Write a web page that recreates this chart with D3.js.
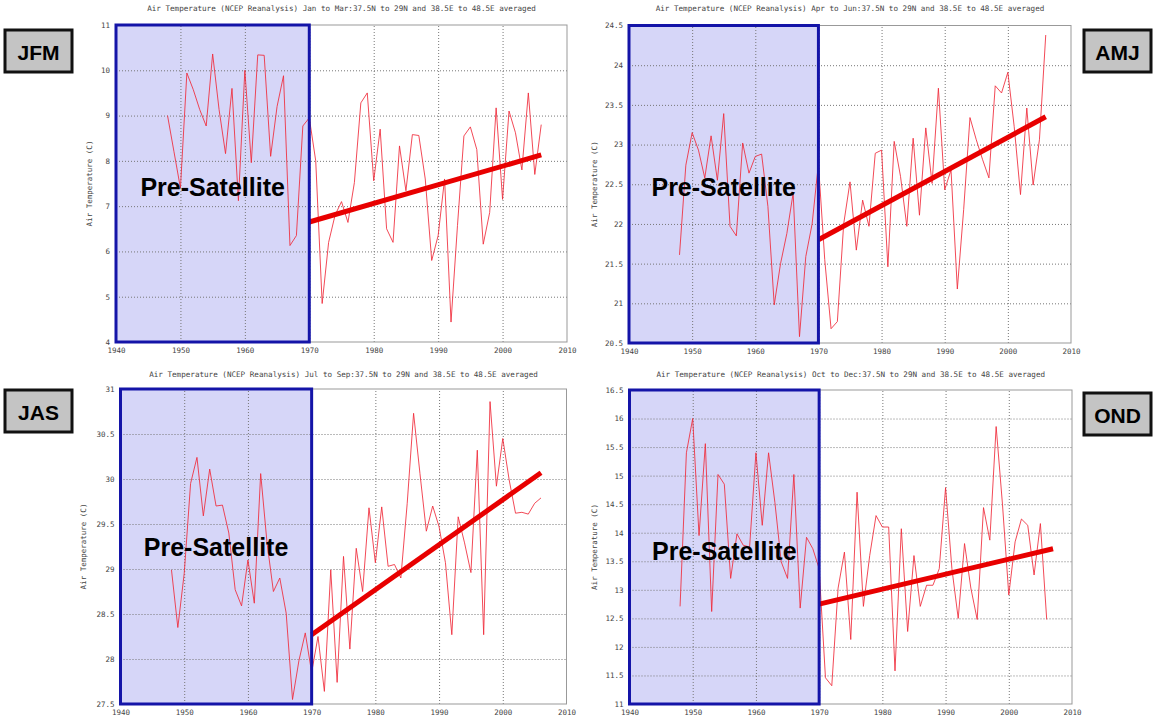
<!DOCTYPE html>
<html>
<head>
<meta charset="utf-8">
<script src="https://cdn.jsdelivr.net/npm/d3@7"></script>
<style>
  body { margin: 0; background: #fff; }
  .tick text { font-family: "DejaVu Sans Mono", monospace; font-size: 7.5px; fill: #444; }
</style>
</head>
<body>
<div id="chart"></div>
<script>
// ---- data ----
var years = [1948, 1949, 1950, 1951, 1952, 1953, 1954, 1955, 1956, 1957,
             1958, 1959, 1960, 1961, 1962, 1963, 1964, 1965, 1966, 1967,
             1968, 1969, 1970, 1971, 1972, 1973, 1974, 1975, 1976, 1977,
             1978, 1979, 1980, 1981, 1982, 1983, 1984, 1985, 1986, 1987,
             1988, 1989, 1990, 1991, 1992, 1993, 1994, 1995, 1996, 1997,
             1998, 1999, 2000, 2001, 2002, 2003, 2004, 2005, 2006];

var jfmTemp = [9.0, 8.2, 7.4, 9.94, 9.57, 9.13, 8.77, 10.36, 9.13, 8.16,
               9.6, 7.12, 10.0, 7.96, 10.34, 10.33, 8.1, 9.2, 9.88, 6.13,
               6.35, 8.77, 8.95, 8.0, 4.85, 6.2, 6.8, 7.1, 6.64, 7.52,
               9.28, 9.5, 7.56, 8.7, 6.5, 6.2, 8.33, 7.34, 8.58, 8.56,
               7.6, 5.8, 6.35, 7.6, 4.44, 6.57, 8.55, 8.75, 8.25, 6.16,
               6.86, 9.17, 7.15, 9.1, 8.62, 7.8, 9.5, 7.7, 8.8];

var amjTemp = [21.61, 22.74, 23.15, 22.93, 22.58, 23.11, 22.55, 23.39, 21.97, 21.85,
               23.02, 22.64, 22.85, 22.88, 22.22, 20.98, 21.5, 21.88, 22.39, 20.58,
               21.59, 22.0, 22.76, 21.55, 20.68, 20.77, 22.0, 22.53, 21.67, 22.3,
               21.97, 22.89, 22.93, 21.46, 23.04, 22.6, 21.97, 23.08, 22.11, 23.21,
               22.51, 23.71, 22.43, 22.68, 21.18, 22.18, 23.34, 23.06, 22.81, 22.58,
               23.74, 23.65, 23.91, 23.23, 22.37, 23.46, 22.49, 23.06, 24.38];

var jasTemp = [28.99, 28.35, 28.95, 29.95, 30.24, 29.59, 30.11, 29.7, 29.71, 29.4,
               28.77, 28.59, 29.1, 28.62, 30.06, 29.29, 28.75, 28.9, 28.51, 27.55,
               27.98, 28.29, 27.85, 28.25, 27.64, 28.99, 27.74, 29.14, 28.11, 29.23,
               28.75, 29.68, 29.07, 29.69, 29.03, 29.05, 28.9, 29.73, 30.73, 30.06,
               29.42, 29.7, 29.47, 29.07, 28.27, 29.58, 29.29, 28.96, 30.32, 28.27,
               30.86, 29.92, 30.45, 29.99, 29.62, 29.63, 29.61, 29.73, 29.79];

var ondTemp = [12.71, 15.4, 16.0, 13.95, 15.56, 12.62, 15.02, 14.85, 13.2, 13.98,
               13.78, 13.75, 15.4, 14.13, 15.4, 14.53, 13.49, 13.2, 15.02, 12.68,
               13.92, 13.72, 13.37, 11.46, 11.32, 13.03, 13.66, 12.13, 14.71, 12.71,
               13.6, 14.3, 14.1, 14.1, 11.58, 14.07, 12.27, 13.6, 12.71, 13.08,
               13.08, 13.37, 14.79, 13.37, 12.5, 13.81, 13.03, 12.48, 14.44, 13.87,
               15.86, 14.5, 12.91, 13.84, 14.24, 14.13, 13.26, 14.16, 12.48];

// linear trend, satellite era
var trendYears = [1970, 2006];
var ondTrendYears = [1970, 2007];
var jfmTrend = [6.65, 8.13];
var amjTrend = [21.8, 23.35];
var jasTrend = [28.27, 30.07];
var ondTrend = [12.75, 13.72];

var xTicks = [1940, 1950, 1960, 1970, 1980, 1990, 2000, 2010];
var jfmTicks = [4, 5, 6, 7, 8, 9, 10, 11];
var amjTicks = [20.5, 21, 21.5, 22, 22.5, 23, 23.5, 24, 24.5];
var jasTicks = [27.5, 28, 28.5, 29, 29.5, 30, 30.5, 31];
var ondTicks = [11, 11.5, 12, 12.5, 13, 13.5, 14, 14.5, 15, 15.5, 16, 16.5];

var preSatellite = [1940, 1970];
var seasonLabels = ["JFM", "AMJ", "JAS", "OND"];
var seasonMonths = ["Jan to Mar", "Apr to Jun", "Jul to Sep", "Oct to Dec"];

// ---- layout ----
var W = 1153, H = 723;
var svg = d3.select("#chart").append("svg").attr("width", W).attr("height", H);

var panels = [
  { temp: jfmTemp, ticks: jfmTicks, trend: jfmTrend, tYears: trendYears,
    frame: [116, 567, 25, 342], box: [5, 30, 67, 42], preY: 187, yLabX: 92, titleY: 11 },
  { temp: amjTemp, ticks: amjTicks, trend: amjTrend, tYears: trendYears,
    frame: [629, 1071, 25.5, 343], box: [1084, 30, 67, 42], preY: 187, yLabX: 597, titleY: 11 },
  { temp: jasTemp, ticks: jasTicks, trend: jasTrend, tYears: trendYears,
    frame: [120.5, 566.5, 389, 704], box: [5, 390, 67, 42], preY: 547, yLabX: 86, titleY: 377 },
  { temp: ondTemp, ticks: ondTicks, trend: ondTrend, tYears: ondTrendYears,
    frame: [629.5, 1072, 390, 704], box: [1084, 393, 67, 42], preY: 551, yLabX: 597, titleY: 377 }
];

panels.forEach(function(p, k) {
  var f = p.frame;
  var x = d3.scaleLinear().domain([1940, 2010]).range([f[0], f[1]]);
  var y = d3.scaleLinear().domain(d3.extent(p.ticks)).range([f[3], f[2]]);
  var g = svg.append("g");

  // pre-satellite shading
  g.append("rect")
    .attr("x", x(preSatellite[0])).attr("y", f[2])
    .attr("width", x(preSatellite[1]) - x(preSatellite[0]))
    .attr("height", f[3] - f[2])
    .attr("fill", "#d6d6f8");

  // grid
  g.append("g")
    .attr("transform", "translate(0," + f[3] + ")")
    .call(d3.axisBottom(x).tickValues(xTicks.slice(1, -1)).tickSize(-(f[3] - f[2])).tickFormat(""))
    .call(function(a) { a.select(".domain").remove(); })
    .selectAll("line").attr("stroke", "#777").attr("stroke-dasharray", "1,2");
  g.append("g")
    .attr("transform", "translate(" + f[0] + ",0)")
    .call(d3.axisLeft(y).tickValues(p.ticks.slice(1, -1)).tickSize(-(f[1] - f[0])).tickFormat(""))
    .call(function(a) { a.select(".domain").remove(); })
    .selectAll("line").attr("stroke", "#777").attr("stroke-dasharray", "1,2");

  // frame
  g.append("rect")
    .attr("x", f[0]).attr("y", f[2])
    .attr("width", f[1] - f[0]).attr("height", f[3] - f[2])
    .attr("fill", "none").attr("stroke", "#999").attr("stroke-width", 1);

  // tick labels
  g.append("g")
    .attr("transform", "translate(0," + (f[3] + 3) + ")")
    .call(d3.axisBottom(x).tickValues(xTicks).tickSize(0).tickFormat(d3.format("d")))
    .call(function(a) { a.select(".domain").remove(); });
  g.append("g")
    .attr("transform", "translate(" + (f[0] - 3) + ",0)")
    .call(d3.axisLeft(y).tickValues(p.ticks).tickSize(0).tickFormat(function(d) { return String(d); }))
    .call(function(a) { a.select(".domain").remove(); });

  // data
  var line = d3.line().x(function(d, i) { return x(years[i]); }).y(function(d) { return y(d); });
  g.append("path").datum(p.temp)
    .attr("d", line)
    .attr("fill", "none").attr("stroke", "#f02a3a").attr("stroke-opacity", 0.85)
    .attr("stroke-width", 1);

  // trend
  g.append("line")
    .attr("x1", x(p.tYears[0])).attr("y1", y(p.trend[0]))
    .attr("x2", x(p.tYears[1])).attr("y2", y(p.trend[1]))
    .attr("stroke", "#e80000").attr("stroke-width", 5);

  // pre-satellite border
  g.append("rect")
    .attr("x", x(preSatellite[0])).attr("y", f[2])
    .attr("width", x(preSatellite[1]) - x(preSatellite[0]))
    .attr("height", f[3] - f[2])
    .attr("fill", "none").attr("stroke", "#1414a8").attr("stroke-width", 3);

  g.append("text")
    .attr("x", (x(preSatellite[0]) + x(preSatellite[1])) / 2)
    .attr("y", p.preY)
    .attr("text-anchor", "middle").attr("dominant-baseline", "central")
    .style("font-family", "'Liberation Sans', Arial, sans-serif")
    .style("font-weight", "bold").style("font-size", "25px")
    .text("Pre-Satellite");

  // axis title
  g.append("text")
    .attr("transform", "translate(" + p.yLabX + "," + ((f[2] + f[3]) / 2) + ") rotate(-90)")
    .attr("text-anchor", "middle")
    .style("font-family", "'DejaVu Sans Mono', monospace").style("font-size", "7.5px").style("fill", "#444")
    .text("Air Temperature (C)");

  // plot title
  g.append("text")
    .attr("x", (f[0] + f[1]) / 2).attr("y", p.titleY)
    .attr("text-anchor", "middle")
    .style("font-family", "'DejaVu Sans Mono', monospace").style("font-size", "7.6px").style("fill", "#444")
    .text("Air Temperature (NCEP Reanalysis) " + seasonMonths[k] + ":37.5N to 29N and 38.5E to 48.5E averaged");

  // season tag
  var b = p.box;
  g.append("rect")
    .attr("x", b[0]).attr("y", b[1]).attr("width", b[2]).attr("height", b[3])
    .attr("fill", "#c4c4c4").attr("stroke", "#111").attr("stroke-width", 3);
  g.append("text")
    .attr("x", b[0] + b[2] / 2).attr("y", b[1] + b[3] / 2 + 1)
    .attr("text-anchor", "middle").attr("dominant-baseline", "central")
    .style("font-family", "'Liberation Sans', Arial, sans-serif")
    .style("font-weight", "bold").style("font-size", "21px")
    .text(seasonLabels[k]);
});
</script>
</body>
</html>
